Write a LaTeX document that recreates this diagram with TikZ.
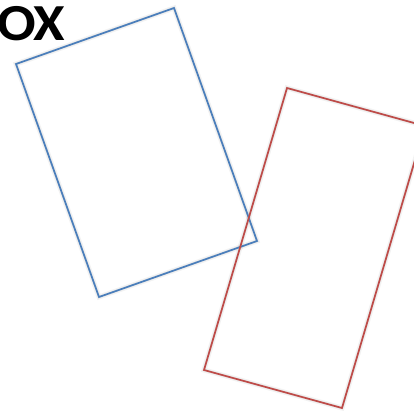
\documentclass[tikz,border=0pt]{standalone}
\usepackage{fontspec}
\setmainfont{Carlito}
\definecolor{boxblue}{HTML}{4A7EBB}
\definecolor{boxred}{HTML}{BE4B48}
\begin{document}
\begin{tikzpicture}[x=1pt,y=-1pt,
  outline/.style={line width=1.7pt,line join=miter},
  shade1/.style={draw=black,opacity=0.05,line width=5pt},
  shade2/.style={draw=black,opacity=0.06,line width=2.5pt}]
\useasboundingbox (0,0) rectangle (414,410);
\begin{scope}
\clip (0,0) rectangle (414,410);
% blue rectangle corners
\coordinate (b1) at (16,64);
\coordinate (b2) at (174,8);
\coordinate (b3) at (257,241);
\coordinate (b4) at (99,297);
% red rectangle corners
\coordinate (r1) at (287,88);
\coordinate (r2) at (425,126);
\coordinate (r3) at (342,408);
\coordinate (r4) at (204,370);
% shadows
\foreach \s in {shade1,shade2}{
  \draw[\s,shift={(2,3)}] (b1) -- (b2) -- (b3) -- (b4) -- cycle;
  \draw[\s,shift={(2,3)}] (r1) -- (r2) -- (r3) -- (r4) -- cycle;
}
\draw[outline,boxblue] (b1) -- (b2) -- (b3) -- (b4) -- cycle;
\draw[outline,boxred] (r1) -- (r2) -- (r3) -- (r4) -- cycle;
\node[anchor=base west,inner sep=0pt,xscale=1.1,font=\fontsize{52}{52}\selectfont\bfseries] (title) at (-3,40) {OX};
\end{scope}
\end{tikzpicture}
\end{document}
